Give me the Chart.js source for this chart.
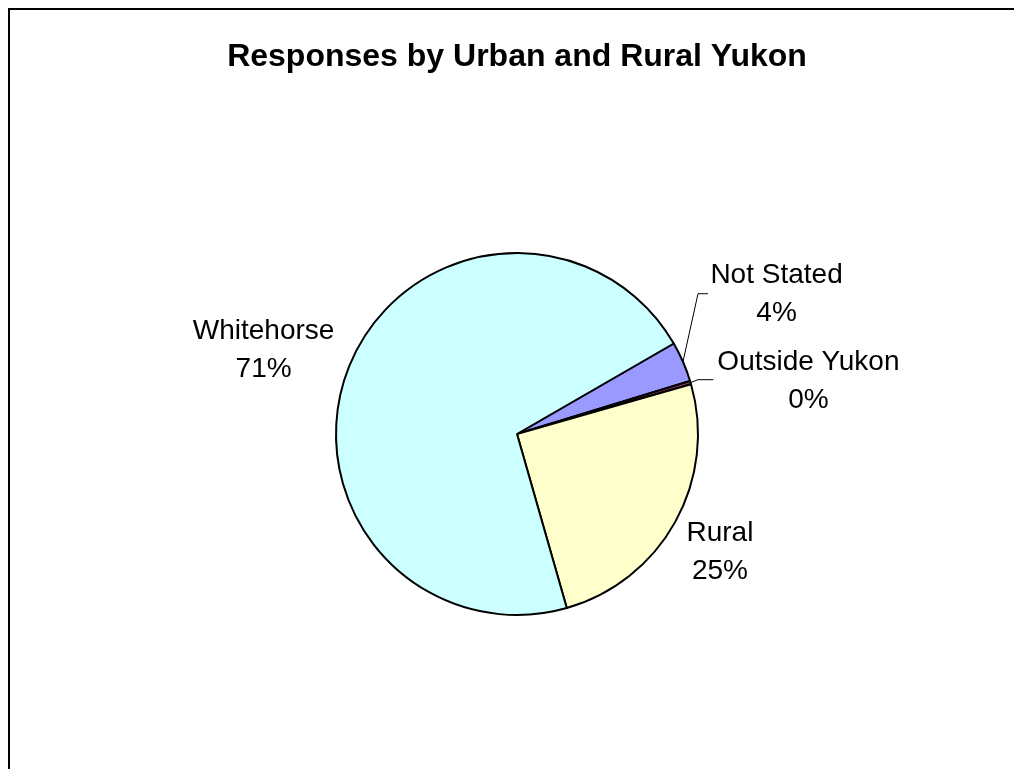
<!DOCTYPE html>
<html lang="en">
<head>
    <meta charset="UTF-8">
    <title>Responses by Urban and Rural Yukon</title>
    <script src="https://cdn.jsdelivr.net/npm/chart.js"></script>
    <style>
        body { margin: 0; background: #fff; overflow: hidden; }
        #frame { position: absolute; left: 8px; top: 8px; width: 1100px; height: 900px;
                 border-left: 2px solid #000; border-top: 2px solid #000; }
        canvas { position: absolute; left: 0; top: 0; }
    </style>
</head>
<body>
    <div id="frame"></div>
    <canvas id="pieChart" width="1014" height="769"></canvas>

    <script>
        // Data (Excel order: first slice starts at 60 degrees, clockwise)
        const categories = ['Not Stated', 'Outside Yukon', 'Rural', 'Whitehorse'];
        const shares = [3.6, 0.3, 25.0, 71.1];
        const sliceColors = ['#9999FF', '#993366', '#FFFFCC', '#CCFFFF'];
        const chartTitle = 'Responses by Urban and Rural Yukon';

        // label centres, in pie radius units relative to the centre
        const labelPos = [[1.434, -0.77], [1.61, -0.29], [1.121, 0.655], [-1.40, -0.46]];
        // leader lines: [elbow, end] in radius units, null = no line
        const leaders = [[[1.0, -0.775], [1.055, -0.775]], [[1.0, -0.30], [1.085, -0.30]], null, null];

        const labelPlugin = {
            id: 'pieLabels',
            afterDraw(chart) {
                const ctx = chart.ctx;
                const meta = chart.getDatasetMeta(0);
                const total = shares.reduce((a, b) => a + b, 0);
                ctx.save();
                // title
                ctx.fillStyle = '#000';
                ctx.textAlign = 'center';
                ctx.textBaseline = 'middle';
                ctx.font = 'bold 32px "Liberation Sans", Arial, sans-serif';
                ctx.fillText(chartTitle, 517, 57);

                ctx.font = '28px "Liberation Sans", Arial, sans-serif';
                meta.data.forEach((arc, i) => {
                    const cx = arc.x, cy = arc.y, r = arc.outerRadius;
                    const lx = cx + labelPos[i][0] * r;
                    const ly = cy + labelPos[i][1] * r;
                    ctx.fillText(categories[i], lx, ly - 19);
                    ctx.fillText(Math.round(shares[i] / total * 100) + '%', lx, ly + 19);

                    if (leaders[i]) {
                        const mid = (arc.startAngle + arc.endAngle) / 2;
                        ctx.beginPath();
                        ctx.strokeStyle = '#000';
                        ctx.lineWidth = 1;
                        ctx.moveTo(cx + Math.cos(mid) * r, cy + Math.sin(mid) * r);
                        ctx.lineTo(cx + leaders[i][0][0] * r, cy + leaders[i][0][1] * r);
                        ctx.lineTo(cx + leaders[i][1][0] * r, cy + leaders[i][1][1] * r);
                        ctx.stroke();
                    }
                });
                ctx.restore();
            }
        };

        new Chart(document.getElementById('pieChart'), {
            type: 'pie',
            data: {
                labels: categories,
                datasets: [{
                    data: shares,
                    backgroundColor: sliceColors,
                    borderColor: '#000',
                    borderWidth: 2
                }]
            },
            options: {
                responsive: false,
                animation: false,
                rotation: 60,
                layout: { padding: { left: 335, right: 315, top: 252, bottom: 153 } },
                plugins: {
                    legend: { display: false },
                    tooltip: { enabled: false },
                    title: { display: false }
                }
            },
            plugins: [labelPlugin]
        });
    </script>
</body>
</html>
